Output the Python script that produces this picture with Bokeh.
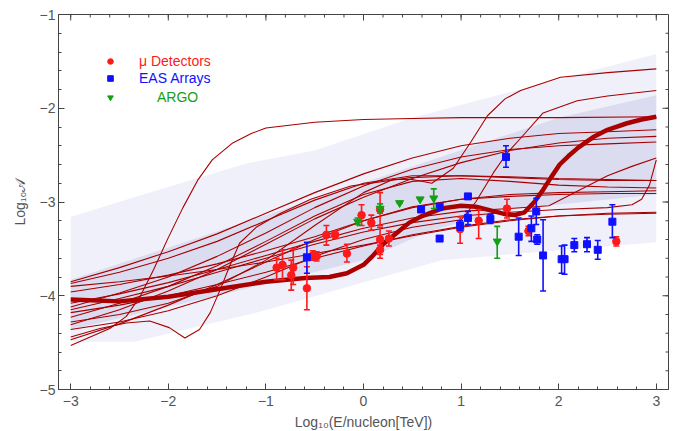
from bokeh.plotting import figure
from bokeh.models import Range1d, FixedTicker, Legend, LegendItem
from bokeh.embed import file_html
from bokeh.resources import INLINE

# ---------------- bands ----------------
light_up_x = [-3, -2.35, -1.2, -0.5, 0.5, 3]
light_up_y = [-3.16, -2.95, -2.59, -2.45, -2.10, -1.42]
light_lo_x = [-3, -2.35, -1.06, 0.8, 3]
light_lo_y = [-4.49, -4.49, -4.17, -3.62, -3.43]
dark_up_x = [-3, -1.2, 0.5, 2.0, 3]
dark_up_y = [-3.83, -3.21, -2.62, -2.10, -1.86]
dark_lo_x = [-3, -1.3, 0.0, 0.7, 1.5, 3]
dark_lo_y = [-4.36, -3.95, -3.62, -3.30, -3.08, -2.92]

# ---------------- model curves ----------------
grid_x = [-3, -2.5, -2, -1.5, -1, -0.5, 0, 0.5, 1, 1.5, 2, 2.5, 3]
curve_G = [-3.85, -3.70, -3.53, -3.34, -3.12, -2.90, -2.70, -2.53, -2.40, -2.32, -2.27, -2.25, -2.23]
curve_H = [-4.12, -3.97, -3.80, -3.58, -3.33, -3.06, -2.83, -2.65, -2.52, -2.44, -2.40, -2.38, -2.36]
curve_P = [-4.31, -4.15, -3.95, -3.72, -3.45, -3.18, -2.95, -2.75, -2.58, -2.45, -2.37, -2.32, -2.30]
curve_J = [-3.87, -3.75, -3.60, -3.42, -3.20, -2.98, -2.80, -2.72, -2.72, -2.74, -2.76, -2.77, -2.77]
curve_K = [-4.23, -4.08, -3.90, -3.68, -3.42, -3.15, -2.92, -2.78, -2.75, -2.78, -2.82, -2.84, -2.85]
curve_O = [-3.96, -3.88, -3.78, -3.66, -3.52, -3.37, -3.20, -3.06, -2.97, -2.92, -2.90, -2.89, -2.88]
curve_L = [-4.47, -4.30, -4.10, -3.88, -3.64, -3.40, -3.20, -3.05, -2.97, -2.94, -2.92, -2.91, -2.91]
curve_M = [-3.90, -3.85, -3.79, -3.72, -3.64, -3.55, -3.46, -3.36, -3.27, -3.20, -3.15, -3.12, -3.11]
curve_N = [-4.18, -4.10, -4.00, -3.88, -3.75, -3.60, -3.47, -3.35, -3.26, -3.19, -3.15, -3.13, -3.12]

curve_A_x = [-3, -2.6, -2.43, -2.29, -2.15, -2.0, -1.85, -1.7, -1.55, -1.34, -1.15, -1.0, -0.5, 0, 0.5, 1, 2, 3]
curve_A_y = [-4.53, -4.35, -4.22, -4.01, -3.72, -3.38, -3.06, -2.77, -2.55, -2.37, -2.27, -2.21, -2.15, -2.12, -2.11, -2.10, -2.10, -2.09]
curve_B_x = [-3, -2.7, -2.43, -2.19, -1.99, -1.83, -1.68, -1.57, -1.47, -1.37, -1.27, -1.1, -0.85, -0.54, -0.13, 0.48, 1, 1.5, 2, 2.5, 3]
curve_B_y = [-4.44, -4.35, -4.29, -4.27, -4.34, -4.45, -4.36, -4.18, -3.94, -3.68, -3.44, -3.27, -3.12, -2.97, -2.83, -2.74, -2.72, -2.73, -2.75, -2.76, -2.77]
curve_C_x = [-3, -2.5, -2, -1.5, -1, -0.5, 0, 0.3, 0.5, 0.7, 0.92, 1.1, 1.27, 1.45, 1.61, 2.02, 2.5, 3]
curve_C_y = [-4.28, -4.20, -4.08, -3.90, -3.62, -3.25, -2.90, -2.76, -2.76, -2.80, -2.64, -2.36, -2.08, -1.90, -1.81, -1.67, -1.62, -1.58]
curve_D_x = [-3, -2.5, -2, -1.5, -1, -0.5, 0, 0.5, 1, 1.15, 1.33, 1.47, 1.61, 1.84, 2.19, 2.5, 3]
curve_D_y = [-4.36, -4.28, -4.16, -4.00, -3.80, -3.58, -3.40, -3.27, -3.19, -3.00, -2.69, -2.48, -2.32, -2.05, -1.92, -1.87, -1.81]
curve_E_x = [-3, -2.5, -2, -1.5, -1, -0.5, 0, 0.5, 1, 1.5, 1.9, 2.2, 2.5, 2.75, 3]
curve_E_y = [-4.08, -3.98, -3.86, -3.72, -3.57, -3.42, -3.28, -3.17, -3.10, -3.07, -3.04, -2.88, -2.72, -2.62, -2.53]
curve_F_x = [-3, -2.5, -2, -1.5, -1, -0.5, 0, 0.5, 1, 1.5, 2, 2.5, 2.75, 2.85, 2.93, 3]
curve_F_y = [-4.15, -4.03, -3.90, -3.75, -3.60, -3.45, -3.32, -3.22, -3.15, -3.11, -3.08, -3.06, -3.03, -2.97, -2.82, -2.55]

best_x = [-3, -2.5, -2, -1.5, -1, -0.6, -0.35, -0.17, 0, 0.09, 0.2, 0.34, 0.47, 0.6, 0.8, 1.0, 1.15, 1.3,
          1.45, 1.55, 1.65, 1.75, 1.84, 1.92, 2.01, 2.1, 2.2, 2.35, 2.5, 2.7, 2.85, 3]
best_y = [-4.04, -4.06, -4.01, -3.93, -3.85, -3.81, -3.80, -3.76, -3.67, -3.58, -3.45, -3.33, -3.22, -3.15,
          -3.07, -3.04, -3.05, -3.09, -3.13, -3.14, -3.11, -3.00, -2.87, -2.74, -2.60, -2.51, -2.42, -2.31,
          -2.23, -2.16, -2.12, -2.09]

# ---------------- data points ----------------
mu_x = [-0.89, -0.83, -0.72, -0.74, -0.58, -0.52, -0.48, -0.38, -0.29, -0.17, -0.02, 0.08, 0.17, 0.17, 0.17, 0.26,
        0.99, 1.18, 1.47, 1.69, 2.59]
mu_y = [-3.70, -3.67, -3.70, -3.78, -3.92, -3.57, -3.58, -3.35, -3.35, -3.55, -3.14, -3.22, -3.40, -3.51, -3.08, -3.39,
        -3.29, -3.20, -3.07, -3.31, -3.42]
mu_lo = [-3.83, -3.83, -3.88, -3.94, -4.15, -3.62, -3.63, -3.46, -3.39, -3.64, -3.25, -3.30, -3.60, -3.56, -3.25, -3.47,
         -3.44, -3.39, -3.17, -3.36, -3.47]
mu_hi = [-3.60, -3.51, -3.50, -3.62, -3.69, -3.52, -3.53, -3.25, -3.31, -3.45, -3.03, -3.14, -3.27, -3.46, -2.90, -3.31,
         -3.16, -3.08, -2.97, -3.26, -3.37]

eas_x = [-0.58, 0.59, 0.78, 0.78, 0.99, 1.07, 1.07, 1.30, 1.46, 1.59, 1.72, 1.77, 1.78, 1.84, 2.03, 2.06, 2.16,
         2.29, 2.40, 2.55]
eas_y = [-3.59, -3.08, -3.05, -3.39, -3.25, -2.94, -3.17, -3.18, -2.52, -3.37, -3.28, -3.10, -3.40, -3.57, -3.61,
         -3.61, -3.46, -3.45, -3.51, -3.21]
eas_lo = [-3.76, -3.08, -3.05, -3.39, -3.30, -2.94, -3.24, -3.23, -2.63, -3.57, -3.42, -3.24, -3.45, -3.95, -3.76,
          -3.77, -3.53, -3.53, -3.61, -3.38]
eas_hi = [-3.43, -3.08, -3.05, -3.39, -3.20, -2.94, -3.10, -3.13, -2.40, -3.17, -3.15, -2.96, -3.35, -3.19, -3.47,
          -3.46, -3.39, -3.38, -3.41, -3.03]

argo_x = [-0.06, 0.17, 0.37, 0.58, 0.72, 1.37]
argo_y = [-3.21, -3.07, -3.01, -2.97, -2.96, -3.42]
argo_lo = [-3.24, -3.12, -3.01, -2.97, -3.07, -3.60]
argo_hi = [-3.17, -3.02, -3.01, -2.97, -2.86, -3.26]

x_ticks = [-3, -2, -1, 0, 1, 2, 3]
x_labels = ["\u22123", "\u22122", "\u22121", "0", "1", "2", "3"]
y_ticks = [-5, -4, -3, -2, -1]
y_labels = ["\u22125", "\u22124", "\u22123", "\u22122", "\u22121"]
x_minor = [round(-3 + 0.2 * i, 2) for i in range(31)]
y_minor = [round(-5 + 0.2 * i, 2) for i in range(21)]

FONT = "Liberation Sans"
AX = "#444444"
LINE = "#a80000"
X0, X1, Y0, Y1 = -3.125, 3.125, -5, -1
FW, FH = 610, 375

p = figure(frame_width=FW, frame_height=FH, x_range=Range1d(X0, X1), y_range=Range1d(Y0, Y1),
           output_backend="svg", toolbar_location=None, min_border_left=58, min_border_top=14,
           min_border_right=12, min_border_bottom=42, background_fill_color="white")
p.xgrid.visible = False
p.ygrid.visible = False
p.outline_line_color = AX
p.outline_line_width = 1

# bands
p.patch(light_up_x + light_lo_x[::-1], light_up_y + light_lo_y[::-1], fill_color="#eff0fa", line_color=None)
p.patch(dark_up_x + dark_lo_x[::-1], dark_up_y + dark_lo_y[::-1], fill_color="#dcdcf0", line_color=None)

for cy in [curve_G, curve_H, curve_P, curve_J, curve_K, curve_O, curve_L, curve_M, curve_N]:
    p.line(grid_x, cy, line_color=LINE, line_width=1.1)
for cx, cy in [(curve_A_x, curve_A_y), (curve_B_x, curve_B_y), (curve_C_x, curve_C_y), (curve_D_x, curve_D_y),
               (curve_E_x, curve_E_y), (curve_F_x, curve_F_y)]:
    p.line(cx, cy, line_color=LINE, line_width=1.1)
p.line(best_x, best_y, line_color="#aa0000", line_width=4.5)

def points(xs, ys, lo, hi, color, marker, size):
    p.segment(xs, lo, xs, hi, line_color=color, line_width=1.6)
    p.scatter(xs, lo, marker="dash", size=6, line_color=color, line_width=1.6)
    p.scatter(xs, hi, marker="dash", size=6, line_color=color, line_width=1.6)
    return p.scatter(xs, ys, marker=marker, size=size, fill_color=color, line_color=color)

r_mu = points(mu_x, mu_y, mu_lo, mu_hi, "#ff1a1a", "circle", 7.5)
r_eas = points(eas_x, eas_y, eas_lo, eas_hi, "#1010ff", "square", 7)
r_argo = points(argo_x, argo_y, argo_lo, argo_hi, "#14a014", "inverted_triangle", 8)

for label, rend, color, y, standoff in [("\u03bc Detectors", r_mu, "#ff1a1a", 320, 22),
                                          ("EAS Arrays", r_eas, "#1010ff", 303, 22),
                                          ("ARGO", r_argo, "#14a014", 284, 40)]:
    lg = Legend(items=[LegendItem(label=label, renderers=[rend])], location=(45, y),
                padding=0, margin=0, spacing=0, border_line_alpha=0, background_fill_alpha=0,
                glyph_width=14, glyph_height=16, label_height=16, label_standoff=standoff,
                label_text_font_size="14px", label_text_font=FONT, label_text_color=color)
    p.add_layout(lg, "center")

def style(ax, ticks, minor, labels):
    ax.ticker = FixedTicker(ticks=ticks, minor_ticks=minor)
    ax.axis_line_color = AX
    ax.major_tick_line_color = AX
    ax.minor_tick_line_color = AX
    ax.major_tick_in = 6
    ax.major_tick_out = 0
    ax.minor_tick_in = 3
    ax.minor_tick_out = 0
    ax.major_label_overrides = dict(zip(ticks, labels))
    ax.major_label_text_font = FONT
    ax.major_label_text_font_size = "14px"
    ax.major_label_text_color = "#555555"
    ax.axis_label_text_font = FONT
    ax.axis_label_text_font_size = "14px"
    ax.axis_label_text_font_style = "normal"
    ax.axis_label_text_color = "#555555"

style(p.xaxis[0], x_ticks, x_minor, x_labels)
p.xaxis[0].axis_label = "Log\u2081\u2080(E/nucleon[TeV])"
p.xaxis[0].major_label_standoff = 6
p.xaxis[0].axis_label_standoff = 5
style(p.yaxis[0], y_ticks, y_minor, y_labels)
p.yaxis[0].axis_label = "Log\u2081\u2080\U0001D49C"
p.yaxis[0].major_label_standoff = 3
p.yaxis[0].axis_label_standoff = 9

# frame ticks on the top and right edges (same tick positions as the axes)
dy_major = (Y1 - Y0) * 6 / FH
dy_minor = (Y1 - Y0) * 3 / FH
dx_major = (X1 - X0) * 6 / FW
dx_minor = (X1 - X0) * 3 / FW
p.segment(x_ticks, [Y1] * len(x_ticks), x_ticks, [Y1 - dy_major] * len(x_ticks), line_color=AX, line_width=1)
p.segment(x_minor, [Y1] * len(x_minor), x_minor, [Y1 - dy_minor] * len(x_minor), line_color=AX, line_width=1)
p.segment([X1] * len(y_ticks), y_ticks, [X1 - dx_major] * len(y_ticks), y_ticks, line_color=AX, line_width=1)
p.segment([X1] * len(y_minor), y_minor, [X1 - dx_minor] * len(y_minor), y_minor, line_color=AX, line_width=1)

open("out.html", "w").write(file_html(p, INLINE))
